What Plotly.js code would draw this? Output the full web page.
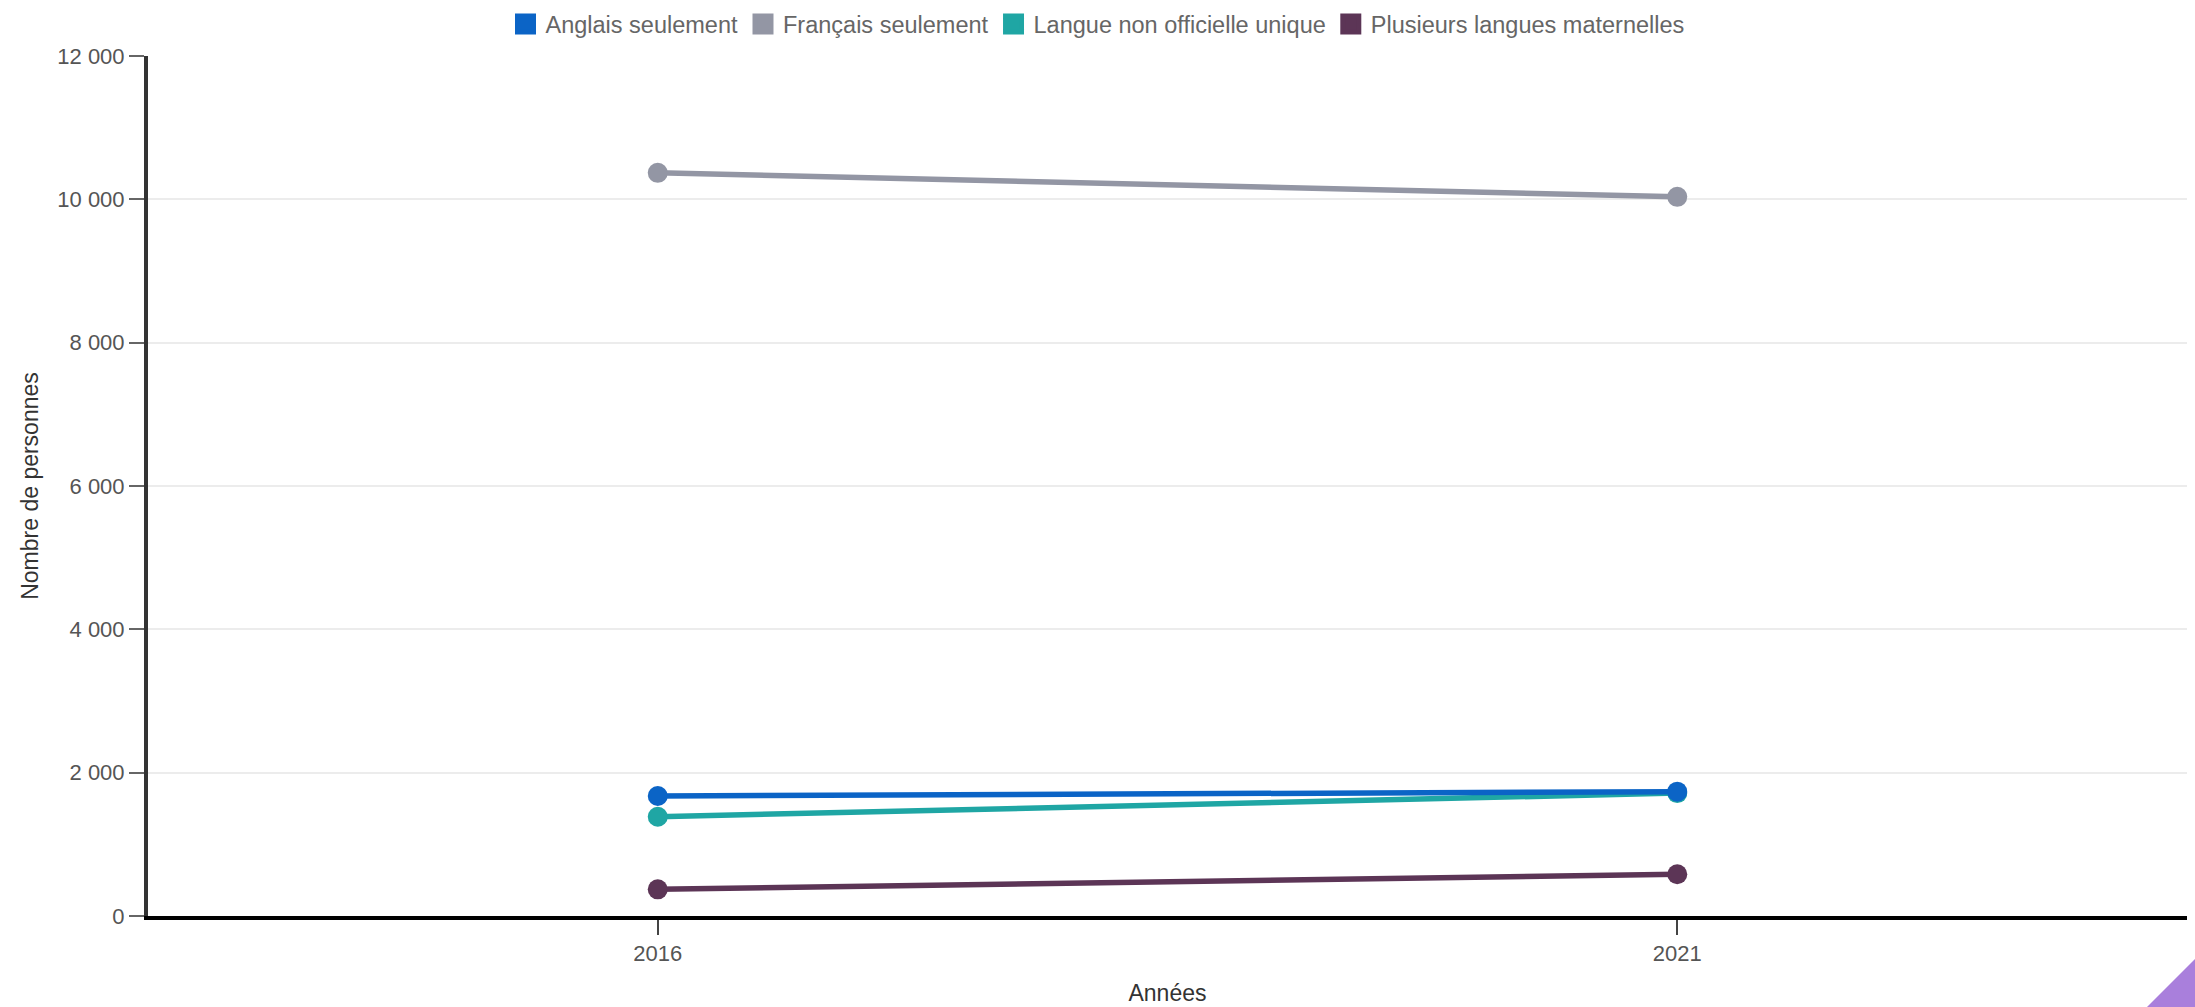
<!DOCTYPE html>
<html>
<head>
<meta charset="utf-8">
<script src="https://cdn.plot.ly/plotly-3.0.1.min.js"></script>
<style>
  html, body { margin: 0; padding: 0; background: #fff; overflow: hidden; }
  #chart { width: 2195px; height: 1007px; }
  #corner { position: absolute; right: 0; bottom: 0; width: 0; height: 0;
            border-left: 48px solid transparent; border-bottom: 48px solid #a97fdc; }
</style>
</head>
<body>
<div id="chart"></div>
<div id="corner"></div>
<script>
// ---- data ----
const years = ['2016', '2021'];
const seriesNames = ['Anglais seulement', 'Français seulement', 'Langue non officielle unique', 'Plusieurs langues maternelles'];
const anglais = [1675, 1735];
const francais = [10370, 10035];
const nonOfficielle = [1385, 1715];
const plusieurs = [372, 582];
const yTicks = [0, 2000, 4000, 6000, 8000, 10000, 12000];

const colors = {
  'Anglais seulement': '#0b64c6',
  'Français seulement': '#9396a4',
  'Langue non officielle unique': '#1fa6a4',
  'Plusieurs langues maternelles': '#5c3556'
};
const values = {
  'Anglais seulement': anglais,
  'Français seulement': francais,
  'Langue non officielle unique': nonOfficielle,
  'Plusieurs langues maternelles': plusieurs
};

const drawOrder = ['Plusieurs langues maternelles', 'Langue non officielle unique', 'Français seulement', 'Anglais seulement'];
const traces = [];
drawOrder.forEach(name => {
  traces.push({
    type: 'scatter', mode: 'lines+markers', name: name,
    x: years, y: values[name],
    line: { color: colors[name], width: 5.5 },
    marker: { color: colors[name], size: 20 },
    showlegend: false, legendgroup: name,
    hovertemplate: '%{x}: %{y:,}<extra>' + name + '</extra>'
  });
});
// legend entries (square swatches)
seriesNames.forEach(name => {
  traces.push({
    type: 'scatter', mode: 'markers', name: name,
    x: [null], y: [null],
    marker: { color: colors[name], symbol: 'square', size: 16, line: { color: colors[name], width: 5 } },
    showlegend: true, legendgroup: name
  });
});

const layout = {
  width: 2195, height: 1007,
  margin: { l: 148, r: 8, t: 56, b: 91 },
  paper_bgcolor: '#fff', plot_bgcolor: '#fff',
  separators: ', ',
  font: { family: 'Liberation Sans, Arial, sans-serif', size: 22, color: '#555' },
  showlegend: true,
  legend: {
    orientation: 'h', xref: 'container', yref: 'container',
    x: 0.5, xanchor: 'center', y: 0.976, yanchor: 'middle',
    font: { size: 23.5, color: '#666' }, itemsizing: 'trace'
  },
  xaxis: {
    type: 'category', range: [-0.5, 1.5],
    showline: true, linecolor: '#000', linewidth: 4,
    ticks: 'outside', ticklen: 15, tickwidth: 2, tickcolor: '#444',
    showgrid: false, zeroline: false,
    tickfont: { size: 22, color: '#555' },
    title: { text: 'Années', font: { size: 23, color: '#333' }, standoff: 20 }
  },
  yaxis: {
    range: [0, 12000], tickvals: yTicks, tickformat: ',',
    showline: true, linecolor: '#333', linewidth: 4,
    ticks: 'outside', ticklen: 15, tickwidth: 2, tickcolor: '#666',
    showgrid: true, gridcolor: '#ececec', gridwidth: 2, zeroline: false,
    tickfont: { size: 22, color: '#555' },
    title: { text: 'Nombre de personnes', font: { size: 23, color: '#333' }, standoff: 13 }
  }
};

Plotly.newPlot('chart', traces, layout, { displayModeBar: false, responsive: false });
</script>
</body>
</html>
